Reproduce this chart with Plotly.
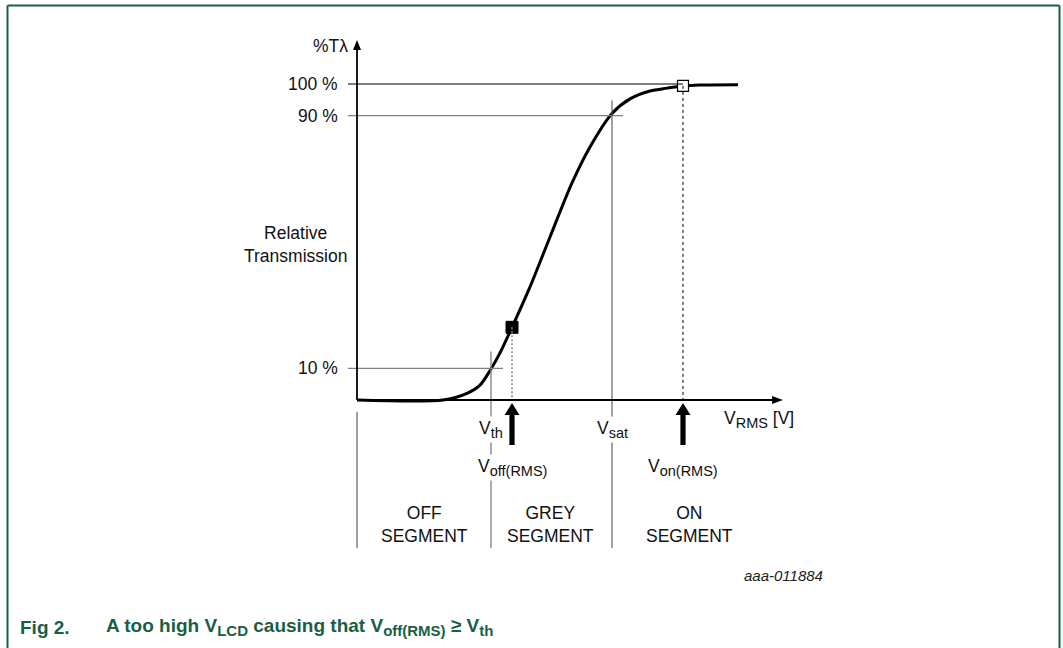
import plotly.graph_objects as go

# ---------------- data ----------------
curve_v = [0, 8.6, 11.0, 12.3, 13.4, 14.3, 15.5, 17.3, 19.3, 21.5, 23.3,
           25.5, 27.3, 29.3, 31.0, 32.6, 34.3, 38.1]
curve_t = [0, 0, 2.1, 4.7, 9.8, 14.9, 23.0, 35.8, 51.6, 68.7, 80.1,
           90.7, 95.3, 97.8, 98.7, 99.4, 99.7, 99.8]

V_TH = 13.4
V_OFF = 15.5
V_SAT = 25.5
V_ON = 32.6
T_OFF = 23.0
T_ON = 99.4
levels = [100, 90, 10]
level_labels = ["100 %", "90 %", "10 %"]
level_ends = [V_ON, 26.6, 14.6]
level_colors = ["#000000", "#808080", "#808080"]
segment_labels = ["OFF<br>SEGMENT", "GREY<br>SEGMENT", "ON<br>SEGMENT"]
segment_centers = [6.7, 19.3, 33.2]

# ---------------- geometry helpers (pixel -> data scale) ----------------
W, H = 1063, 648
PX_X = 10.0      # px per x unit
PX_Y = 3.16      # px per % unit
X0_PX, Y0_PX = 357, 400
x_range = [-X0_PX / PX_X, (W - X0_PX) / PX_X]
y_range = [-(H - Y0_PX) / PX_Y, Y0_PX / PX_Y]


def dx(px):
    return px / PX_X


def dy(px):
    return px / PX_Y


def sub(t, size=14.5):
    return f'<sub><span style="font-size:{size}px">{t}</span></sub>'


FONT = "Liberation Sans, Arial, sans-serif"
GREEN = "#1b5e46"
GREY = "#7f7f7f"
FS = 17.5

fig = go.Figure()

# curve
fig.add_trace(go.Scatter(x=curve_v, y=curve_t, mode="lines",
                         line=dict(color="black", width=3, shape="spline", smoothing=0.8),
                         hoverinfo="skip"))

shapes = []
# level lines
for lv, end, col in zip(levels, level_ends, level_colors):
    shapes.append(dict(type="line", xref="x", yref="y", x0=-dx(9), x1=end, y0=lv, y1=lv,
                       line=dict(color=col, width=1.3 if col != "#000000" else 1)))

y_bottom = -dy(548 - Y0_PX)
# V_th and V_sat verticals
shapes.append(dict(type="line", xref="x", yref="y", x0=V_TH, x1=V_TH,
                   y0=10 + dy(17), y1=y_bottom, line=dict(color=GREY, width=1.3)))
shapes.append(dict(type="line", xref="x", yref="y", x0=V_SAT, x1=V_SAT,
                   y0=90 + dy(15), y1=y_bottom, line=dict(color="#555555", width=1.1)))
# left divider
shapes.append(dict(type="line", xref="x", yref="y", x0=0, x1=0,
                   y0=-dy(12), y1=y_bottom, line=dict(color="#555555", width=1.1)))
# dashed verticals
shapes.append(dict(type="line", xref="x", yref="y", x0=V_ON, x1=V_ON, y0=T_ON, y1=0,
                   line=dict(color="black", width=1, dash="3px,3px")))
shapes.append(dict(type="line", xref="x", yref="y", x0=V_OFF, x1=V_OFF, y0=T_OFF, y1=0,
                   line=dict(color="#888888", width=1.5, dash="2px,2px")))

# axes
y_tip = dy(Y0_PX - 40)
x_tip = dx(783 - X0_PX)
shapes.append(dict(type="line", xref="x", yref="y", x0=0, x1=0, y0=0, y1=y_tip - dy(6),
                   line=dict(color="black", width=1.8)))
shapes.append(dict(type="line", xref="x", yref="y", x0=0, x1=x_tip - dx(6), y0=0, y1=0,
                   line=dict(color="black", width=1.8)))
shapes.append(dict(type="path", xref="x", yref="y",
                   path=f"M {-dx(4)} {y_tip - dy(10)} L 0 {y_tip} L {dx(4)} {y_tip - dy(10)} Z",
                   fillcolor="black", line=dict(color="black", width=0)))
shapes.append(dict(type="path", xref="x", yref="y",
                   path=f"M {x_tip - dx(11)} {dy(4)} L {x_tip} 0 L {x_tip - dx(11)} {-dy(4)} Z",
                   fillcolor="black", line=dict(color="black", width=0)))


# thick up arrows under V_off and V_on
def up_arrow(xv):
    tip = -dy(3)
    base = -dy(15)
    bottom = -dy(45)
    hw = dx(7.5)
    sw = dx(2.6)
    return (f"M {xv} {tip} L {xv + hw} {base} L {xv + sw} {base} L {xv + sw} {bottom} "
            f"L {xv - sw} {bottom} L {xv - sw} {base} L {xv - hw} {base} Z")


for xv in (V_OFF, V_ON):
    shapes.append(dict(type="path", xref="x", yref="y", path=up_arrow(xv),
                       fillcolor="black", line=dict(color="black", width=0)))

# frame border
bx0, bx1, by1 = 7.5 / W, 1059.5 / W, 1 - 5.5 / H
shapes.append(dict(type="line", xref="paper", yref="paper", x0=bx0, x1=bx0, y0=0, y1=by1,
                   line=dict(color=GREEN, width=2)))
shapes.append(dict(type="line", xref="paper", yref="paper", x0=bx1, x1=bx1, y0=0, y1=by1,
                   line=dict(color=GREEN, width=2)))
shapes.append(dict(type="line", xref="paper", yref="paper", x0=bx0, x1=bx1, y0=by1, y1=by1,
                   line=dict(color=GREEN, width=2)))

# markers
fig.add_trace(go.Scatter(x=[V_OFF], y=[T_OFF], mode="markers",
                         marker=dict(symbol="square", size=12, color="black",
                                     line=dict(color="black", width=1)), hoverinfo="skip"))
fig.add_trace(go.Scatter(x=[V_ON], y=[T_ON], mode="markers",
                         marker=dict(symbol="square", size=11, color="white",
                                     line=dict(color="black", width=1.2)), hoverinfo="skip"))

ann = []
tf = dict(family=FONT, size=FS, color="#111111")
for lv, lab in zip(levels, level_labels):
    ann.append(dict(x=-dx(17), y=lv, xref="x", yref="y", text=lab, showarrow=False,
                    xanchor="right", yanchor="middle", font=tf))
ann.append(dict(x=-dx(7), y=dy(Y0_PX - 46), xref="x", yref="y", text="%Tλ", showarrow=False,
                xanchor="right", yanchor="middle", font=tf))
ann.append(dict(x=-dx(62), y=dy(Y0_PX - 244), xref="x", yref="y", text="Relative<br>Transmission",
                showarrow=False, xanchor="center", yanchor="middle", font=tf))
ann.append(dict(x=dx(722 - X0_PX), y=-dy(19), xref="x", yref="y",
                text="V" + sub("RMS") + " [V]",
                showarrow=False, xanchor="left", yanchor="middle", font=tf))
for xv, lab in ((V_TH, "V" + sub("th")), (V_SAT, "V" + sub("sat"))):
    ann.append(dict(x=xv, y=-dy(29), xref="x", yref="y", text=lab, showarrow=False,
                    xanchor="center", yanchor="middle", font=tf, bgcolor="white", borderpad=1))
for xv, lab in ((V_OFF, "V" + sub("off(RMS)")), (V_ON, "V" + sub("on(RMS)"))):
    ann.append(dict(x=xv, y=-dy(67), xref="x", yref="y", text=lab, showarrow=False,
                    xanchor="center", yanchor="middle", font=tf, bgcolor="white", borderpad=1))
for xc, lab in zip(segment_centers, segment_labels):
    ann.append(dict(x=xc, y=-dy(124.5), xref="x", yref="y", text=lab, showarrow=False,
                    xanchor="center", yanchor="middle", font=tf))
ann.append(dict(x=dx(783 - X0_PX), y=-dy(175), xref="x", yref="y", text="<i>aaa-011884</i>",
                showarrow=False, xanchor="center", yanchor="middle",
                font=dict(family=FONT, size=15, color="#222222")))
capf = dict(family=FONT, size=19, color=GREEN)
ann.append(dict(x=18 / W, y=1 - 627 / H, xref="paper", yref="paper", text="<b>Fig 2.</b>",
                showarrow=False, xanchor="left", yanchor="middle", font=capf))
ann.append(dict(x=104 / W, y=1 - 627 / H, xref="paper", yref="paper",
                text="<b>A too high V" + sub("LCD", 15) + " causing that V" + sub("off(RMS)", 15)
                     + " ≥ V" + sub("th", 15) + "</b>",
                showarrow=False, xanchor="left", yanchor="middle", font=capf))

fig.update_layout(
    width=W, height=H, margin=dict(l=0, r=0, t=0, b=0), autosize=False,
    paper_bgcolor="white", plot_bgcolor="white", showlegend=False,
    xaxis=dict(range=x_range, visible=False, fixedrange=True),
    yaxis=dict(range=y_range, visible=False, fixedrange=True),
    shapes=shapes, annotations=ann,
)

fig.write_html("out.html", config={"displayModeBar": False},
               post_script="document.body.style.margin='0';")
